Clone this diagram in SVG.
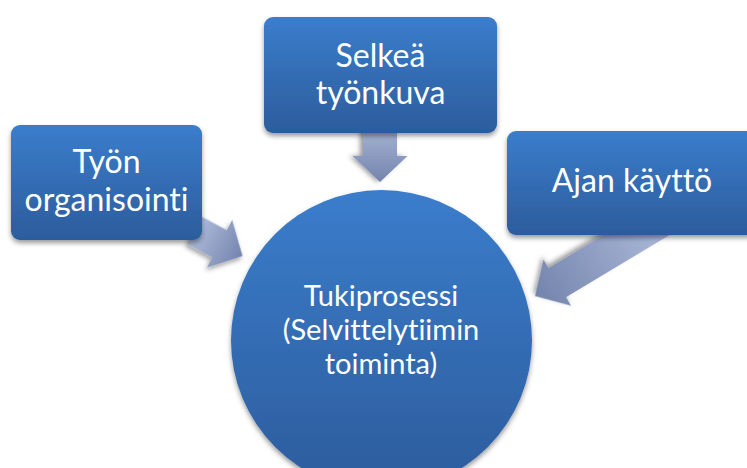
<svg xmlns="http://www.w3.org/2000/svg" width="747" height="468" viewBox="0 0 747 468">
<defs>
<linearGradient id="boxGrad" x1="0" y1="0" x2="0" y2="1">
<stop offset="0" stop-color="#3b7dcc"/>
<stop offset="1" stop-color="#2c5c9c"/>
</linearGradient>
<linearGradient id="arrGrad" x1="0" y1="0" x2="1" y2="0">
<stop offset="0" stop-color="#aebbd9"/>
<stop offset="1" stop-color="#7384ad"/>
</linearGradient>
<filter id="shadow" x="-20%" y="-20%" width="140%" height="150%">
<feDropShadow dx="0" dy="3" stdDeviation="2.5" flood-color="#000" flood-opacity="0.4"/>
</filter>
</defs>
<style>
.box{fill:url(#boxGrad);filter:url(#shadow);}
.arrow{fill:url(#arrGrad);filter:url(#shadow);}
.lbl{font-family:Lato,"Open Sans","Liberation Sans",sans-serif;fill:#ffffff;text-anchor:middle;font-size:32px;font-variant-ligatures:none;font-feature-settings:"liga" 0,"clig" 0;}
.clbl{font-size:29px;}
</style>
<rect width="747" height="468" fill="#ffffff"/>
<g id="connectors">
<polygon class="arrow" transform="translate(380,182) rotate(90)" points="-62,-17 -26,-17 -26,-27.5 0,0 -26,27.5 -26,17 -62,17"/>
<polygon class="arrow" transform="translate(242.5,256) rotate(28)" points="-55,-15.5 -26,-15.5 -26,-27 0,0 -26,27 -26,15.5 -55,15.5"/>
<polygon class="arrow" transform="translate(535,296) rotate(149)" points="-150,-17 -26,-17 -26,-27 0,0 -26,27 -26,17 -150,17"/>
</g>
<g id="node-tyon-organisointi">
<rect class="box" x="11" y="125" width="191" height="115" rx="9"/>
<text class="lbl" x="106.5" y="173">Työn</text>
<text class="lbl" x="106.5" y="211">organisointi</text>
</g>
<g id="node-selkea-tyonkuva">
<rect class="box" x="264" y="17" width="233" height="116" rx="9"/>
<text class="lbl" x="380.5" y="67">Selkeä</text>
<text class="lbl" x="380.5" y="104">työnkuva</text>
</g>
<g id="node-ajan-kaytto">
<rect class="box" x="507" y="131" width="250" height="104" rx="9"/>
<text class="lbl" x="632" y="192">Ajan käyttö</text>
</g>
<g id="node-tukiprosessi">
<circle class="box" cx="381.5" cy="340.5" r="150.5"/>
<text class="lbl clbl" x="381" y="306">Tukiprosessi</text>
<text class="lbl clbl" x="381" y="340">(Selvittelytiimin</text>
<text class="lbl clbl" x="381" y="374">toiminta)</text>
</g>
</svg>
